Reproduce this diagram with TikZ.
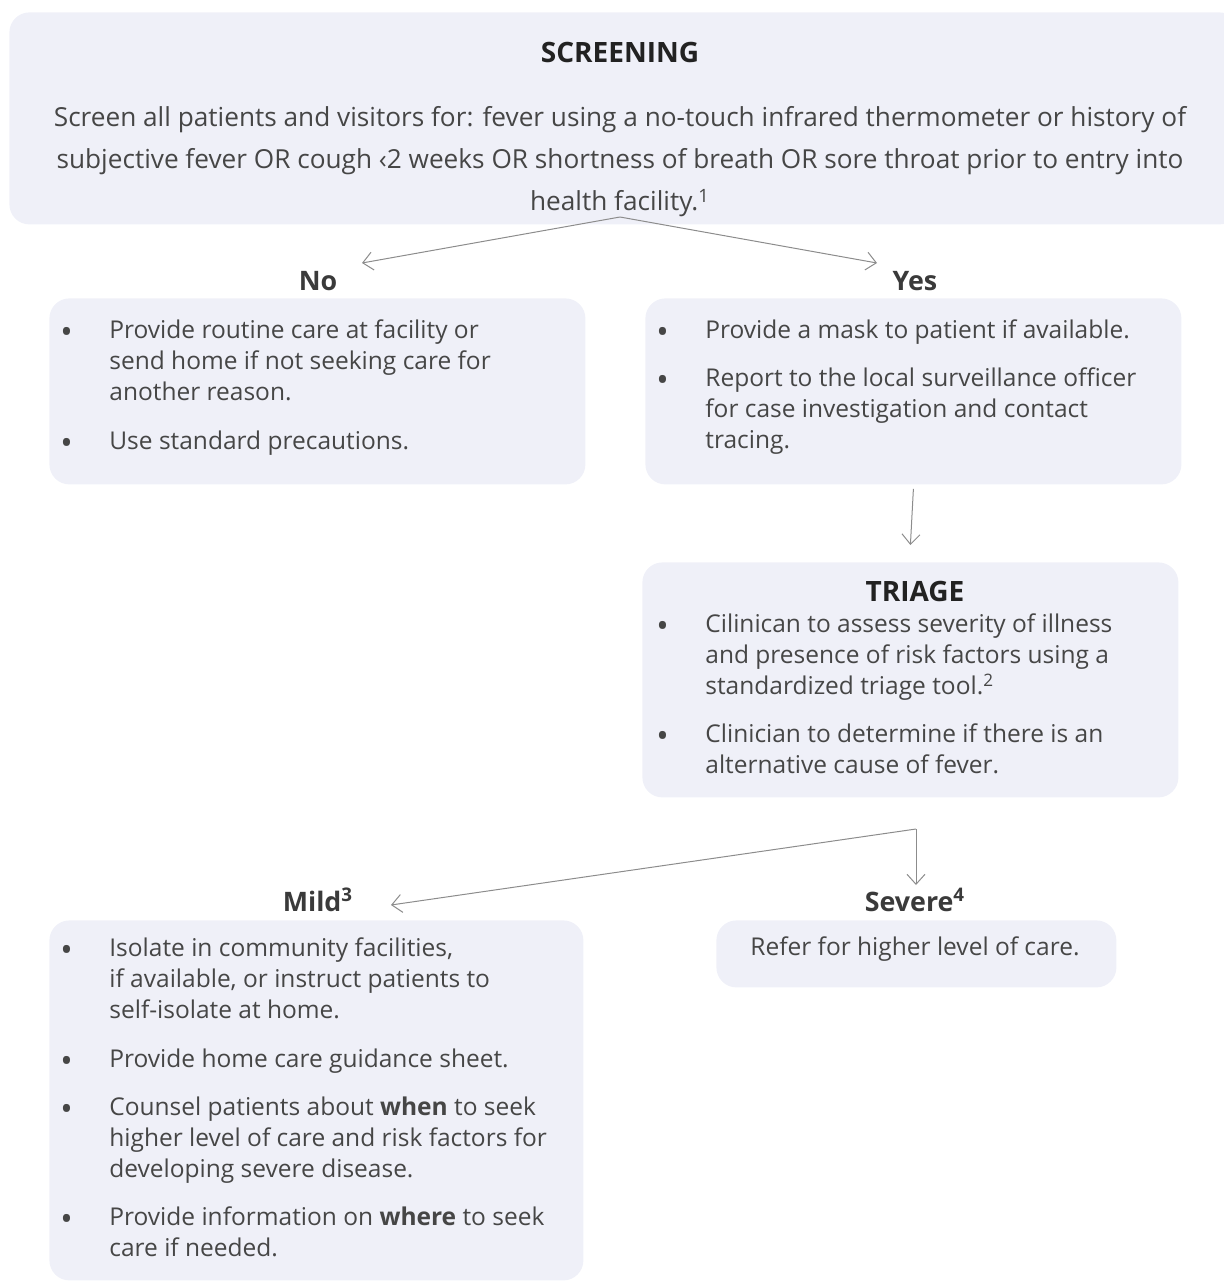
\documentclass[tikz,border=0pt]{standalone}
\usepackage{fontspec}
\setmainfont{Open Sans}
\usetikzlibrary{arrows.meta}
\definecolor{boxfill}{RGB}{239,240,248}
\definecolor{txt}{RGB}{70,70,70}
\definecolor{lbl}{RGB}{58,58,58}
\definecolor{ttl}{RGB}{34,34,34}
\definecolor{arr}{RGB}{140,140,140}
\begin{document}
\begin{tikzpicture}[x=0.5pt,y=-0.5pt,
  box/.style={fill=boxfill, rounded corners=10pt, inner sep=0pt, anchor=north west},
  body/.style={font=\fontsize{12.25}{15.7}\selectfont, text=txt, inner sep=0pt, anchor=north west, align=left},
  lab/.style={font=\fontsize{13.4}{15}\selectfont\bfseries, text=lbl, inner sep=0pt},
  ttlst/.style={font=\fontsize{14}{16}\selectfont\bfseries, text=ttl, inner sep=0pt},
  conn/.style={draw=arr, line width=0.5pt, -{Straight Barb[length=5pt,width=9pt]}}
]
\useasboundingbox (0,0) rectangle (1223,1286);
\newcommand{\bul}[1]{\makebox[23.5pt][l]{\hspace{-1pt}\raisebox{-2.5pt}{\scalebox{1.35}{•}}}\parbox[t]{245pt}{\raggedright #1}}

% boxes
\node[box, minimum width=615pt, minimum height=106pt] (scr) at (9,12) {};
\node[box, minimum width=268pt, minimum height=93pt] (no) at (49,298) {};
\node[box, minimum width=268pt, minimum height=93pt] (yes) at (645,298) {};
\node[box, minimum width=268pt, minimum height=117.5pt] (tri) at (642,562) {};
\node[box, minimum width=267pt, minimum height=180pt] (mild) at (49,920) {};
\node[box, minimum width=200pt, minimum height=33.5pt] (sev) at (716,920) {};

% screening
\node[ttlst] (scrT) at (620,52) {SCREENING};
\node[font=\fontsize{13.1}{21}\selectfont, text=txt, align=center, inner sep=0pt] (scrB) at (620,162)
  {Screen all patients and visitors for: fever using a no-touch infrared thermometer or history of\\
   subjective fever OR cough ‹2 weeks OR shortness of breath OR sore throat prior to entry into\\
   health facility.\textsuperscript{1}};

% labels
\node[lab] (noL) at (318,281) {No};
\node[lab] (yesL) at (915,281) {Yes};
\node[ttlst] (triT) at (915,591) {TRIAGE};
\node[lab] (mildL) at (318,900) {Mild\textsuperscript{3}};
\node[lab] (sevL) at (915,900) {Severe\textsuperscript{4}};

% no box text
\node[body] (no1) at (62,319) {\bul{Provide routine care at facility or\\send home if not seeking care for\\another reason.}};
\node[body] (no2) at (62,430) {\bul{Use standard precautions.}};

% yes box text
\node[body] (yes1) at (658,319) {\bul{Provide a mask to patient if available.}};
\node[body] (yes2) at (658,367) {\bul{Report to the local surveillance officer\\for case investigation and contact\\tracing.}};

% triage text
\node[body] (tri1) at (658,613) {\bul{Cilinican to assess severity of illness\\and presence of risk factors using a\\standardized triage tool.\textsuperscript{2}}};
\node[body] (tri2) at (658,723) {\bul{Clinician to determine if there is an\\alternative cause of fever.}};

% mild text
\node[body] (m1) at (62,937) {\bul{Isolate in community facilities,\\if available, or instruct patients to\\self-isolate at home.}};
\node[body] (m2) at (62,1048) {\bul{Provide home care guidance sheet.}};
\node[body] (m3) at (62,1096) {\bul{Counsel patients about \textbf{when} to seek\\higher level of care and risk factors for\\developing severe disease.}};
\node[body] (m4) at (62,1206) {\bul{Provide information on \textbf{where} to seek\\care if needed.}};

% severe text
\node[font=\fontsize{12.25}{15.7}\selectfont, text=txt, inner sep=0pt] (sevB) at (915,949) {Refer for higher level of care.};

% connectors
\coordinate (s1) at (620,217);
\coordinate (noTip) at (362,263);
\coordinate (yesTip) at (877,263);
\draw[conn] (s1) -- (noTip);
\draw[conn] (s1) -- (yesTip);
\draw[conn] ([yshift=-2pt]yes.south) -- ([yshift=8.5pt]tri.north);
\coordinate (s2) at (916,829);
\coordinate (mildTip) at (391,905);
\coordinate (sevTip) at (916,885);
\draw[conn] (s2) -- (mildTip);
\draw[conn] (s2) -- (sevTip);
\end{tikzpicture}
\end{document}
